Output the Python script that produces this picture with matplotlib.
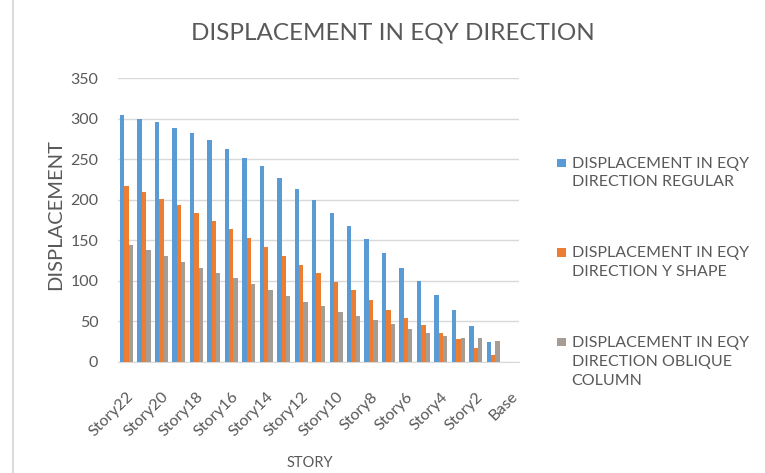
import matplotlib
matplotlib.use("Agg")
import matplotlib.pyplot as plt
from matplotlib.lines import Line2D
from matplotlib.patches import Rectangle
from matplotlib.legend_handler import HandlerPatch, update_from_first_child
import numpy as np

plt.rcParams['font.family'] = ['Lato', 'DejaVu Sans']

stories = ["Story22", "Story21", "Story20", "Story19", "Story18", "Story17",
           "Story16", "Story15", "Story14", "Story13", "Story12", "Story11",
           "Story10", "Story9", "Story8", "Story7", "Story6", "Story5",
           "Story4", "Story3", "Story2", "Story1", "Base"]

regular = [304, 300, 296, 289, 282, 274, 263, 252, 241, 227, 213, 200,
           184, 168, 152, 134, 116, 100, 83, 64, 44, 24, 0]
y_shape = [217, 209, 201, 193, 184, 174, 164, 153, 142, 131, 119, 109,
           99, 88, 76, 64, 54, 46, 36, 28, 17, 9, 0]
oblique = [144, 138, 131, 123, 116, 110, 103, 96, 88, 81, 74, 69,
           62, 57, 51, 47, 40, 35, 32, 30, 30, 26, 0]

series_names = ["DISPLACEMENT IN EQY\nDIRECTION REGULAR",
                "DISPLACEMENT IN EQY\nDIRECTION Y SHAPE",
                "DISPLACEMENT IN EQY\nDIRECTION OBLIQUE\nCOLUMN"]
colors = ["#5B9BD5", "#ED7D31", "#A59C95"]

text_col = "#595959"
leg_fs = 11.5
leg_linespacing = 1.45

fig = plt.figure(figsize=(7.65, 4.73), dpi=100)
ax = fig.add_axes([0.154, 0.235, 0.525, 0.600])

x = np.arange(len(stories))
w = 0.25
containers = []
for i, (vals, name, c) in enumerate(zip([regular, y_shape, oblique], series_names, colors)):
    containers.append(ax.bar(x + (i - 1) * w, vals, width=w, color=c, label=name, zorder=3))

ax.set_xlim(-0.5, len(stories) - 0.5)
ax.set_ylim(0, 350)
ax.set_yticks(np.arange(0, 351, 50))
ax.yaxis.grid(True, color="#d9d9d9", linewidth=1.0, zorder=0)
for s in ["top", "right", "left"]:
    ax.spines[s].set_visible(False)
ax.spines["bottom"].set_color("#d9d9d9")
ax.tick_params(axis="both", length=0, colors=text_col, labelsize=11.5)
ax.tick_params(axis="y", pad=14)
ax.tick_params(axis="x", pad=20)

ax.set_xticks(x[::2])
ax.set_xticklabels(stories[::2], rotation=45, ha="right", rotation_mode="anchor")

ax.set_ylabel("DISPLACEMENT", color=text_col, fontsize=14.5)
ax.yaxis.set_label_coords(-0.134, 0.52)
ax.set_xlabel("STORY", color=text_col, fontsize=10.5)
ax.xaxis.set_label_coords(0.479, -0.333)

fig.text(0.514, 0.930, "DISPLACEMENT IN EQY DIRECTION", ha="center", va="center",
         color=text_col, fontsize=17.5)


def top_square(n_lines):
    # small square key placed beside the first line of a multi-line label
    def make(legend, orig_handle, xdescent, ydescent, width, height, fontsize):
        s = 0.53 * fontsize
        pitch = leg_linespacing * 0.86 * fontsize
        yc = 0.36 * fontsize + 0.5 * (n_lines - 1) * pitch
        return Rectangle((-xdescent + 0.5 * width - 0.5 * s, yc - 0.5 * s), s, s)
    return make


handler_map = {
    cont: HandlerPatch(patch_func=top_square(name.count("\n") + 1),
                       update_func=update_from_first_child)
    for cont, name in zip(containers, series_names)
}

leg = fig.legend(handles=containers, labels=series_names, handler_map=handler_map,
                 loc="upper left", bbox_to_anchor=(0.717, 0.686), frameon=False,
                 borderpad=0, handlelength=0.6, handleheight=0.6, handletextpad=0.35,
                 labelspacing=3.56, fontsize=leg_fs, labelcolor=text_col)
for t in leg.get_texts():
    t.set_linespacing(leg_linespacing)

fig.add_artist(Line2D([0.017, 0.017], [0, 1], transform=fig.transFigure,
                      color="#d4d4d4", linewidth=1.2))

fig.savefig("out.png", dpi=100, facecolor="white")
